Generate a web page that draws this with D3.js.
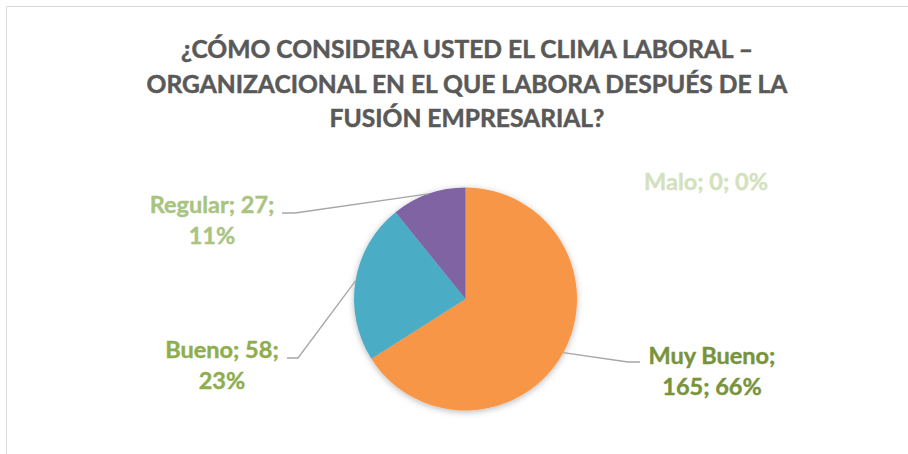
<!DOCTYPE html>
<html>
<head>
<meta charset="utf-8">
<script src="https://cdn.jsdelivr.net/npm/d3@7"></script>
<style>
  body { margin: 0; background: #fff; }
  #chart { width: 908px; height: 454px; }
  text { font-family: Lato, "Open Sans", sans-serif; font-weight: bold; }
</style>
</head>
<body>
<div id="chart"></div>
<script>
var categories = ["Muy Bueno", "Bueno", "Regular", "Malo"];
var values = [165, 58, 27, 0];
var percents = ["66%", "23%", "11%", "0%"];
var sliceColors = ["#F79646", "#4BACC6", "#8064A2", "#9BBB59"];
var labelColors = ["#77933C", "#8EAE4E", "#A8C47F", "#D3E1BE"];
var titleLines = [
    "¿CÓMO CONSIDERA USTED EL CLIMA LABORAL –",
    "ORGANIZACIONAL EN EL QUE LABORA DESPUÉS DE LA",
    "FUSIÓN EMPRESARIAL?"
];

var width = 908, height = 454;
var cx = 465.5, cy = 299, radius = 111.5;

var svg = d3.select("#chart")
    .append("svg")
    .attr("width", width)
    .attr("height", height);

var defs = svg.append("defs");
var shadow = defs.append("filter")
    .attr("id", "shadow")
    .attr("x", "-20%").attr("y", "-20%")
    .attr("width", "140%").attr("height", "140%");
shadow.append("feDropShadow")
    .attr("dx", 0).attr("dy", 1.5)
    .attr("stdDeviation", 3)
    .attr("flood-color", "#000")
    .attr("flood-opacity", 0.28);

// chart frame (only top and left edges are visible)
svg.append("path")
    .attr("d", "M6.5," + height + "V6.5H" + width)
    .attr("fill", "none")
    .attr("stroke", "#d9d9d9")
    .attr("stroke-width", 1);

// title
svg.append("g").selectAll("text")
    .data(titleLines)
    .enter()
    .append("text")
        .attr("x", 467)
        .attr("y", function(d, i) { return 58 + i * 34.5; })
        .attr("text-anchor", "middle")
        .attr("fill", "#595959")
        .attr("stroke", "#595959")
        .attr("stroke-width", 0.5)
        .attr("font-size", 24.6)
        .text(function(d) { return d; });

var data = categories.map(function(c, i) {
    return {name: c, value: values[i], pct: percents[i], color: sliceColors[i], labelColor: labelColors[i]};
});

var pie = d3.pie()
    .sort(null)
    .value(function(d) { return d.value; });

var arcs = pie(data);

var arc = d3.arc()
    .innerRadius(0)
    .outerRadius(radius);

var pieG = svg.append("g")
    .attr("transform", "translate(" + cx + "," + cy + ")");

pieG.append("g")
    .attr("filter", "url(#shadow)")
    .selectAll("path")
    .data(arcs.filter(function(d) { return d.value > 0; }))
    .enter()
    .append("path")
        .attr("d", arc)
        .attr("fill", function(d) { return d.data.color; });

// label placement (text anchor point + leader line elbow)
var labelPos = {
    "Muy Bueno": {x: 712, y: 364, elbow: [[640, 362], [628, 362]]},
    "Bueno": {x: 222, y: 358, elbow: [[287, 358], [298, 358]]},
    "Regular": {x: 212, y: 213, elbow: [[282, 213], [295, 213]]},
    "Malo": {x: 706, y: 190, elbow: null}
};

var labels = svg.append("g");

arcs.forEach(function(d) {
    var p = labelPos[d.data.name];
    var mid = (d.startAngle + d.endAngle) / 2;
    var ex = cx + radius * Math.sin(mid);
    var ey = cy - radius * Math.cos(mid);

    if (p.elbow) {
        var pts = p.elbow.concat([[ex, ey]]);
        labels.append("path")
            .attr("d", d3.line()(pts))
            .attr("fill", "none")
            .attr("stroke", "#a6a6a6")
            .attr("stroke-width", 1.3);
    }

    var lines;
    if (d.data.name === "Muy Bueno") {
        lines = [d.data.name + ";", d.data.value + "; " + d.data.pct];
    } else if (d.data.name === "Malo") {
        lines = [d.data.name + "; " + d.data.value + "; " + d.data.pct];
    } else {
        lines = [d.data.name + "; " + d.data.value + ";", d.data.pct];
    }

    var t = labels.append("text")
        .attr("text-anchor", "middle")
        .attr("fill", d.data.labelColor)
        .attr("stroke", d.data.labelColor)
        .attr("stroke-width", 0.4)
        .attr("font-size", 23.5);
    lines.forEach(function(l, i) {
        t.append("tspan")
            .attr("x", p.x)
            .attr("y", p.y + i * 31)
            .text(l);
    });
});
</script>
</body>
</html>
